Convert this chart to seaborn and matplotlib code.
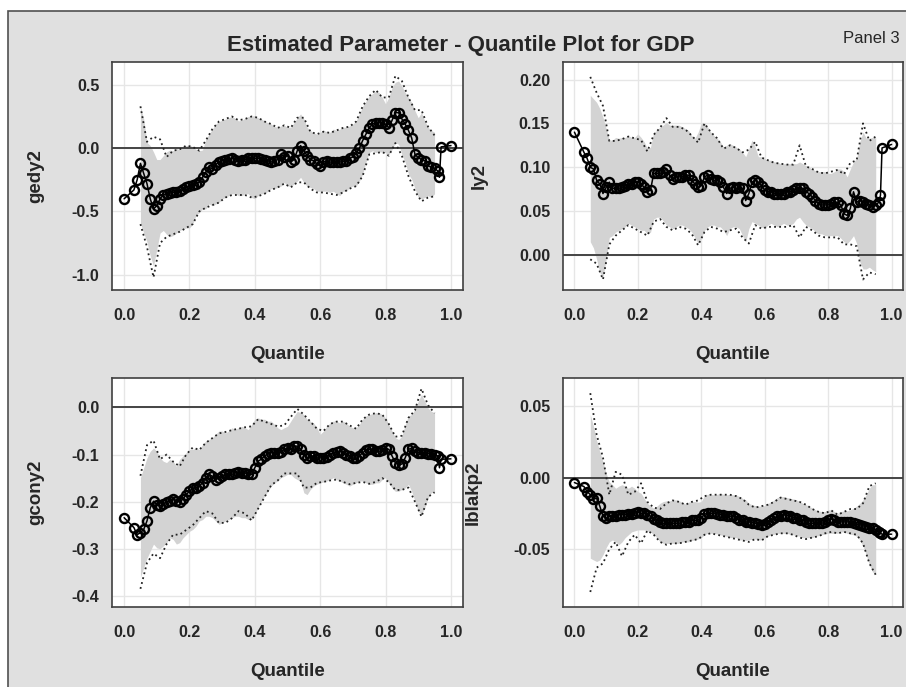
import numpy as np
import matplotlib
matplotlib.use("Agg")
import matplotlib.pyplot as plt
import seaborn as sns
from matplotlib.patches import Rectangle
from matplotlib.ticker import FixedLocator, FormatStrFormatter

# ---------------- data ----------------
title = "Estimated Parameter - Quantile Plot for GDP"
panel_tag = "Panel 3"
x_label = "Quantile"
x_ticks = [0.0, 0.2, 0.4, 0.6, 0.8, 1.0]

# quantile grids
q_est = np.concatenate([[0.0, 0.03, 0.04],
                        np.round(np.arange(0.05, 0.965, 0.01), 2),
                        [0.965, 0.97, 1.0]])
q_band = np.round(np.arange(0.05, 0.955, 0.01), 2)
q_dot = np.round(np.arange(0.05, 0.96, 0.02), 2)

# ---- panel 1: gedy2 ----
gedy2_est = [-0.40, -0.33, -0.25,
             -0.12, -0.20, -0.28, -0.40, -0.48, -0.455, -0.40, -0.37, -0.36, -0.355,
             -0.35, -0.345, -0.34, -0.325, -0.31, -0.30, -0.29, -0.28, -0.27, -0.23,
             -0.19, -0.15, -0.165, -0.13, -0.11, -0.10, -0.09, -0.085, -0.08, -0.09,
             -0.10, -0.095, -0.09, -0.08, -0.075, -0.08, -0.08, -0.085, -0.09, -0.10,
             -0.11, -0.10, -0.09, -0.05, -0.07, -0.06, -0.11, -0.09, -0.02, 0.02,
             -0.02, -0.06, -0.09, -0.10, -0.125, -0.14, -0.11, -0.10, -0.11, -0.11,
             -0.11, -0.11, -0.105, -0.10, -0.08, -0.07, -0.04, 0.0, 0.06, 0.11,
             0.16, 0.19, 0.20, 0.20, 0.20, 0.19, 0.16, 0.22, 0.28, 0.28,
             0.23, 0.19, 0.14, 0.08, -0.05, -0.075, -0.09, -0.10, -0.14, -0.15,
             -0.16, -0.18,
             -0.23, 0.01, 0.02]
gedy2_hi = [0.33, 0.23, 0.045, 0.02, -0.03, -0.09, -0.09, -0.06, -0.03, -0.015,
            -0.02, 0.0, -0.015, 0.005, 0.02, 0.025, 0.01, -0.01, -0.02, -0.015,
            0.07, 0.11, 0.15, 0.19, 0.21, 0.22, 0.23, 0.24, 0.25, 0.235,
            0.215, 0.22, 0.235, 0.25, 0.255, 0.255, 0.24, 0.23, 0.215, 0.20,
            0.19, 0.17, 0.165, 0.175, 0.18, 0.165, 0.165, 0.20, 0.24, 0.27,
            0.23, 0.165, 0.14, 0.12, 0.11, 0.125, 0.14, 0.13, 0.125, 0.15,
            0.14, 0.15, 0.165, 0.165, 0.175, 0.19, 0.215, 0.27, 0.33, 0.37,
            0.41, 0.43, 0.45, 0.44, 0.40, 0.35, 0.40, 0.48, 0.52, 0.53,
            0.49, 0.44, 0.40, 0.36, 0.295, 0.24, 0.28, 0.215, 0.165, 0.14,
            0.125]
gedy2_lo = [-0.59, -0.67, -0.74, -0.85, -0.93, -0.80, -0.67, -0.65, -0.68, -0.70,
            -0.69, -0.67, -0.65, -0.64, -0.63, -0.63, -0.60, -0.53, -0.51, -0.48,
            -0.48, -0.44, -0.455, -0.44, -0.43, -0.40, -0.39, -0.375, -0.36, -0.36,
            -0.375, -0.375, -0.36, -0.36, -0.39, -0.40, -0.375, -0.36, -0.36, -0.34,
            -0.32, -0.32, -0.31, -0.30, -0.27, -0.30, -0.30, -0.285, -0.26, -0.23,
            -0.27, -0.30, -0.31, -0.32, -0.34, -0.34, -0.34, -0.34, -0.35, -0.34,
            -0.36, -0.375, -0.34, -0.34, -0.31, -0.30, -0.30, -0.26, -0.205, -0.11,
            -0.035, -0.02, -0.035, -0.03, -0.03, -0.035, -0.05, -0.01, 0.045, 0.03,
            -0.05, -0.11, -0.205, -0.245, -0.32, -0.39, -0.40, -0.39, -0.375, -0.39,
            -0.36]
gedy2_dot_hi = [0.33, 0.05, 0.09, 0.07, -0.07, -0.02, -0.01, 0.02, 0.01, -0.02,
                0.06, 0.15, 0.21, 0.23, 0.25, 0.22, 0.23, 0.25, 0.24, 0.21,
                0.19, 0.16, 0.18, 0.16, 0.24, 0.24, 0.13, 0.11, 0.13, 0.12,
                0.14, 0.16, 0.17, 0.21, 0.33, 0.41, 0.46, 0.40, 0.40, 0.57,
                0.53, 0.40, 0.30, 0.30, 0.17, 0.10]
gedy2_dot_lo = [-0.60, -0.78, -1.02, -0.75, -0.70, -0.68, -0.66, -0.63, -0.60, -0.50,
                -0.47, -0.45, -0.43, -0.39, -0.37, -0.37, -0.37, -0.39, -0.38, -0.36,
                -0.33, -0.31, -0.28, -0.31, -0.27, -0.27, -0.32, -0.35, -0.35, -0.36,
                -0.37, -0.35, -0.32, -0.30, -0.22, -0.05, -0.04, -0.03, -0.06, 0.04,
                -0.06, -0.22, -0.34, -0.42, -0.39, -0.38]

# ---- panel 2: ly2 ----
ly2_est = [0.140, 0.117, 0.110,
           0.100, 0.098, 0.085, 0.081, 0.070, 0.077, 0.083, 0.076, 0.076, 0.076,
           0.077, 0.079, 0.081, 0.081, 0.083, 0.083, 0.081, 0.077, 0.072, 0.074,
           0.093, 0.093, 0.093, 0.095, 0.098, 0.091, 0.087, 0.089, 0.089, 0.089,
           0.091, 0.091, 0.085, 0.081, 0.077, 0.079, 0.089, 0.091, 0.087, 0.085,
           0.085, 0.083, 0.077, 0.070, 0.076, 0.077, 0.076, 0.077, 0.076, 0.062,
           0.070, 0.083, 0.085, 0.083, 0.079, 0.074, 0.072, 0.072, 0.070, 0.070,
           0.070, 0.070, 0.072, 0.072, 0.074, 0.076, 0.076, 0.076, 0.072, 0.070,
           0.066, 0.062, 0.058, 0.057, 0.057, 0.057, 0.058, 0.060, 0.060, 0.057,
           0.047, 0.045, 0.053, 0.072, 0.060, 0.062, 0.060, 0.058, 0.057, 0.055,
           0.057, 0.060,
           0.068, 0.122, 0.126]
ly2_hi = [0.182, 0.178, 0.174, 0.167, 0.157, 0.144, 0.131, 0.131, 0.134, 0.133,
          0.134, 0.134, 0.136, 0.134, 0.134, 0.138, 0.134, 0.129, 0.121, 0.123,
          0.140, 0.142, 0.146, 0.148, 0.151, 0.148, 0.148, 0.148, 0.148, 0.146,
          0.144, 0.142, 0.136, 0.133, 0.140, 0.150, 0.151, 0.146, 0.140, 0.136,
          0.133, 0.129, 0.123, 0.125, 0.127, 0.125, 0.123, 0.121, 0.117, 0.112,
          0.121, 0.131, 0.123, 0.112, 0.112, 0.110, 0.108, 0.108, 0.106, 0.106,
          0.104, 0.104, 0.104, 0.104, 0.104, 0.104, 0.106, 0.104, 0.102, 0.100,
          0.098, 0.096, 0.095, 0.095, 0.095, 0.093, 0.093, 0.095, 0.098, 0.098,
          0.095, 0.089, 0.098, 0.106, 0.110, 0.129, 0.140, 0.133, 0.133, 0.134,
          0.134]
ly2_lo = [0.015, 0.008, -0.005, -0.020, -0.025, -0.005, 0.020, 0.022, 0.026, 0.028,
          0.030, 0.032, 0.036, 0.034, 0.032, 0.030, 0.028, 0.028, 0.024, 0.026,
          0.041, 0.043, 0.043, 0.039, 0.034, 0.032, 0.030, 0.032, 0.034, 0.034,
          0.032, 0.030, 0.026, 0.020, 0.013, 0.019, 0.028, 0.032, 0.034, 0.034,
          0.032, 0.032, 0.028, 0.022, 0.030, 0.032, 0.032, 0.030, 0.022, 0.015,
          0.030, 0.038, 0.036, 0.034, 0.032, 0.030, 0.034, 0.036, 0.034, 0.032,
          0.034, 0.036, 0.034, 0.034, 0.036, 0.041, 0.043, 0.038, 0.034, 0.032,
          0.030, 0.026, 0.024, 0.024, 0.022, 0.022, 0.022, 0.022, 0.022, 0.019,
          0.015, 0.013, 0.017, 0.022, 0.013, -0.008, -0.016, -0.016, -0.014, -0.017,
          -0.019]
ly2_dot_hi = [0.203, 0.185, 0.170, 0.130, 0.130, 0.132, 0.135, 0.133, 0.131, 0.118,
              0.137, 0.145, 0.156, 0.146, 0.146, 0.143, 0.136, 0.128, 0.150, 0.140,
              0.133, 0.121, 0.125, 0.122, 0.117, 0.120, 0.129, 0.111, 0.108, 0.105,
              0.104, 0.103, 0.103, 0.125, 0.101, 0.098, 0.094, 0.093, 0.095, 0.097,
              0.092, 0.105, 0.108, 0.150, 0.130, 0.135]
ly2_dot_lo = [-0.005, -0.010, -0.028, 0.012, 0.022, 0.028, 0.034, 0.030, 0.026, 0.022,
              0.038, 0.041, 0.032, 0.028, 0.032, 0.030, 0.024, 0.011, 0.026, 0.032,
              0.030, 0.026, 0.028, 0.030, 0.020, 0.013, 0.034, 0.030, 0.032, 0.032,
              0.032, 0.032, 0.034, 0.020, 0.032, 0.028, 0.022, 0.020, 0.020, 0.020,
              0.012, 0.012, 0.010, -0.028, -0.020, -0.022]

# ---- panel 3: gcony2 ----
gcony2_est = [-0.234, -0.255, -0.270,
              -0.266, -0.259, -0.241, -0.213, -0.199, -0.206, -0.209, -0.205, -0.200, -0.199,
              -0.195, -0.199, -0.200, -0.195, -0.185, -0.178, -0.171, -0.171, -0.167, -0.160,
              -0.149, -0.142, -0.146, -0.153, -0.149, -0.146, -0.142, -0.141, -0.142, -0.139,
              -0.137, -0.139, -0.139, -0.142, -0.142, -0.128, -0.114, -0.110, -0.103, -0.098,
              -0.096, -0.096, -0.096, -0.094, -0.089, -0.086, -0.089, -0.082, -0.082, -0.089,
              -0.100, -0.107, -0.103, -0.103, -0.107, -0.107, -0.107, -0.105, -0.100, -0.096,
              -0.094, -0.093, -0.096, -0.100, -0.103, -0.107, -0.108, -0.103, -0.096, -0.091,
              -0.089, -0.089, -0.093, -0.093, -0.091, -0.086, -0.089, -0.103, -0.117, -0.122,
              -0.120, -0.107, -0.089, -0.086, -0.093, -0.096, -0.096, -0.096, -0.098, -0.098,
              -0.100, -0.103,
              -0.128, -0.110, -0.109]
gcony2_hi = [-0.149, -0.128, -0.107, -0.093, -0.086, -0.093, -0.107, -0.114, -0.117, -0.110,
             -0.114, -0.125, -0.110, -0.103, -0.096, -0.089, -0.089, -0.086, -0.089, -0.079,
             -0.071, -0.068, -0.064, -0.057, -0.050, -0.050, -0.054, -0.050, -0.043, -0.047,
             -0.043, -0.040, -0.043, -0.047, -0.036, -0.025, -0.022, -0.025, -0.025, -0.029,
             -0.029, -0.036, -0.043, -0.047, -0.043, -0.040, -0.029, -0.018, -0.008, -0.011,
             -0.015, -0.025, -0.029, -0.033, -0.043, -0.057, -0.050, -0.040, -0.033, -0.029,
             -0.029, -0.033, -0.029, -0.033, -0.040, -0.043, -0.043, -0.036, -0.025, -0.018,
             -0.015, -0.013, -0.011, -0.011, -0.015, -0.022, -0.036, -0.050, -0.064, -0.068,
             -0.061, -0.036, -0.018, -0.015, -0.004, 0.013, 0.028, 0.013, -0.001, -0.008,
             -0.011]
gcony2_lo = [-0.360, -0.340, -0.320, -0.305, -0.290, -0.298, -0.300, -0.294, -0.287, -0.277,
             -0.280, -0.290, -0.287, -0.277, -0.270, -0.263, -0.259, -0.252, -0.241, -0.238,
             -0.231, -0.231, -0.234, -0.241, -0.248, -0.245, -0.241, -0.238, -0.234, -0.231,
             -0.231, -0.234, -0.234, -0.238, -0.238, -0.227, -0.213, -0.199, -0.188, -0.178,
             -0.167, -0.160, -0.156, -0.149, -0.146, -0.142, -0.142, -0.149, -0.153, -0.156,
             -0.181, -0.185, -0.174, -0.167, -0.163, -0.160, -0.158, -0.156, -0.153, -0.149,
             -0.153, -0.156, -0.160, -0.163, -0.167, -0.163, -0.160, -0.156, -0.156, -0.160,
             -0.163, -0.163, -0.160, -0.160, -0.153, -0.149, -0.160, -0.171, -0.178, -0.178,
             -0.174, -0.171, -0.163, -0.178, -0.199, -0.220, -0.227, -0.213, -0.192, -0.181,
             -0.178]
gcony2_dot_hi = [-0.145, -0.080, -0.070, -0.110, -0.100, -0.115, -0.125, -0.100, -0.085, -0.090,
                 -0.075, -0.065, -0.055, -0.052, -0.048, -0.045, -0.042, -0.040, -0.025, -0.030,
                 -0.035, -0.040, -0.038, -0.020, -0.003, -0.015, -0.030, -0.045, -0.050, -0.035,
                 -0.030, -0.030, -0.038, -0.045, -0.025, -0.015, -0.012, -0.015, -0.035, -0.062,
                 -0.060, -0.022, -0.006, 0.040, 0.005, -0.012]
gcony2_dot_lo = [-0.385, -0.330, -0.310, -0.320, -0.290, -0.270, -0.270, -0.260, -0.250, -0.235,
                 -0.220, -0.225, -0.245, -0.245, -0.235, -0.220, -0.225, -0.240, -0.215, -0.190,
                 -0.165, -0.155, -0.140, -0.140, -0.140, -0.170, -0.170, -0.160, -0.158, -0.155,
                 -0.153, -0.158, -0.163, -0.160, -0.158, -0.162, -0.158, -0.150, -0.158, -0.175,
                 -0.175, -0.170, -0.200, -0.232, -0.190, -0.180]

# ---- panel 4: lblakp2 ----
lblakp2_est = [-0.0035, -0.0063, -0.0098,
               -0.012, -0.015, -0.0145, -0.020, -0.027, -0.0284, -0.027, -0.027, -0.0268, -0.026,
               -0.026, -0.026, -0.0256, -0.0256, -0.025, -0.0242, -0.025, -0.025, -0.026, -0.027,
               -0.029, -0.030, -0.031, -0.032, -0.032, -0.032, -0.032, -0.032, -0.032, -0.031,
               -0.031, -0.031, -0.030, -0.030, -0.0296, -0.0284, -0.0256, -0.025, -0.025, -0.025,
               -0.0254, -0.026, -0.026, -0.0266, -0.027, -0.027, -0.0284, -0.0296, -0.0296, -0.031,
               -0.031, -0.0315, -0.032, -0.0326, -0.033, -0.0326, -0.031, -0.0296, -0.0284, -0.027,
               -0.0266, -0.026, -0.0266, -0.027, -0.028, -0.0284, -0.0296, -0.030, -0.031, -0.032,
               -0.032, -0.032, -0.032, -0.032, -0.031, -0.0296, -0.029, -0.0296, -0.031, -0.031,
               -0.031, -0.031, -0.031, -0.032, -0.0326, -0.033, -0.0338, -0.0343, -0.035, -0.0354,
               -0.0366, -0.0378,
               -0.039, -0.0396, -0.0396]
lblakp2_hi = [0.044, 0.036, 0.026, 0.018, 0.011, 0.003, -0.003, -0.005, -0.0075, -0.006,
              -0.005, -0.006, -0.0075, -0.006, -0.0075, -0.0098, -0.011, -0.0145, -0.018, -0.020,
              -0.0214, -0.020, -0.018, -0.0168, -0.0163, -0.0163, -0.0156, -0.0156, -0.0163, -0.0172,
              -0.0186, -0.0172, -0.0168, -0.0168, -0.0172, -0.0168, -0.0126, -0.0117, -0.0117, -0.0121,
              -0.0117, -0.011, -0.0117, -0.0121, -0.0117, -0.0121, -0.0121, -0.0133, -0.0145, -0.0156,
              -0.018, -0.019, -0.0196, -0.020, -0.020, -0.0196, -0.018, -0.0172, -0.0156, -0.014,
              -0.0133, -0.0133, -0.014, -0.0145, -0.015, -0.0156, -0.0168, -0.018, -0.019, -0.020,
              -0.0214, -0.0226, -0.0233, -0.0238, -0.0238, -0.0226, -0.0226, -0.0238, -0.025, -0.0238,
              -0.0233, -0.0233, -0.0226, -0.0214, -0.020, -0.018, -0.0156, -0.0121, -0.0075, -0.005,
              -0.005]
lblakp2_lo = [-0.0564, -0.0576, -0.0587, -0.0576, -0.054, -0.049, -0.045, -0.0436, -0.045, -0.047,
              -0.045, -0.042, -0.040, -0.038, -0.0373, -0.0366, -0.0366, -0.0366, -0.0373, -0.038,
              -0.040, -0.042, -0.045, -0.046, -0.046, -0.046, -0.046, -0.046, -0.046, -0.045,
              -0.045, -0.045, -0.044, -0.0436, -0.043, -0.042, -0.040, -0.039, -0.039, -0.039,
              -0.0394, -0.040, -0.0406, -0.041, -0.042, -0.042, -0.042, -0.0436, -0.0436, -0.044,
              -0.0436, -0.043, -0.043, -0.0436, -0.0436, -0.042, -0.041, -0.040, -0.0396, -0.039,
              -0.039, -0.039, -0.039, -0.0396, -0.040, -0.0406, -0.041, -0.042, -0.042, -0.042,
              -0.042, -0.041, -0.0406, -0.040, -0.0396, -0.039, -0.039, -0.039, -0.039, -0.038,
              -0.038, -0.039, -0.0396, -0.040, -0.041, -0.0436, -0.048, -0.054, -0.061, -0.066,
              -0.067]
lblakp2_dot_hi = [0.059, 0.030, 0.014, -0.012, 0.004, 0.002, -0.012, -0.010, -0.004, -0.017,
                  -0.021, -0.022, -0.018, -0.016, -0.017, -0.019, -0.017, -0.016, -0.013, -0.012,
                  -0.012, -0.012, -0.012, -0.013, -0.015, -0.019, -0.021, -0.020, -0.019, -0.017,
                  -0.014, -0.015, -0.016, -0.017, -0.019, -0.022, -0.024, -0.025, -0.023, -0.026,
                  -0.024, -0.022, -0.022, -0.018, -0.006, -0.004]
lblakp2_dot_lo = [-0.080, -0.063, -0.060, -0.050, -0.045, -0.055, -0.045, -0.040, -0.046, -0.037,
                  -0.040, -0.045, -0.047, -0.046, -0.046, -0.045, -0.044, -0.043, -0.040, -0.039,
                  -0.040, -0.041, -0.042, -0.043, -0.044, -0.045, -0.043, -0.044, -0.041, -0.040,
                  -0.039, -0.039, -0.040, -0.042, -0.043, -0.042, -0.041, -0.039, -0.038, -0.039,
                  -0.038, -0.039, -0.040, -0.046, -0.060, -0.068]

y_labels = ["gedy2", "ly2", "gcony2", "lblakp2"]
y_ticks = [[0.5, 0.0, -0.5, -1.0],
           [0.20, 0.15, 0.10, 0.05, 0.00],
           [0.0, -0.1, -0.2, -0.3, -0.4],
           [0.05, 0.00, -0.05]]
y_fmts = ["%.1f", "%.2f", "%.1f", "%.2f"]

# ---------------- style ----------------
sns.set_style("white")
plt.rcParams["font.family"] = ["Liberation Sans", "DejaVu Sans"]
plt.rcParams["axes.unicode_minus"] = False

W, H = 906, 687
fig = plt.figure(figsize=(W / 100, H / 100), dpi=100)
fig.patch.set_facecolor("white")
fig.add_artist(Rectangle((8 / W, -0.02), 1.0, 1 - 11 / H + 0.02,
                         transform=fig.transFigure, facecolor="#e0e0e0",
                         edgecolor="#505050", lw=1.2, zorder=-10))

# axes boxes in pixels: (left, top, right, bottom)
boxes = [(112, 62, 463, 290), (562.7, 62, 903.3, 290),
         (112, 378.3, 463, 606.7), (562.7, 378.3, 903.3, 606.7)]
ylims = [(-1.12, 0.68), (-0.040, 0.220), (-0.423, 0.062), (-0.0903, 0.0694)]
ylabel_x = [-0.194, -0.219, -0.194, -0.237]

panels = [
    (gedy2_est, gedy2_lo, gedy2_hi, gedy2_dot_lo, gedy2_dot_hi),
    (ly2_est, ly2_lo, ly2_hi, ly2_dot_lo, ly2_dot_hi),
    (gcony2_est, gcony2_lo, gcony2_hi, gcony2_dot_lo, gcony2_dot_hi),
    (lblakp2_est, lblakp2_lo, lblakp2_hi, lblakp2_dot_lo, lblakp2_dot_hi),
]

for i, (est, lo, hi, dlo, dhi) in enumerate(panels):
    l, t, r, b = boxes[i]
    ax = fig.add_axes([l / W, 1 - b / H, (r - l) / W, (b - t) / H])
    ax.set_facecolor("white")
    ax.set_axisbelow(True)
    ax.grid(True, color="#e6e6e6", lw=1.0)

    ax.fill_between(q_band, lo, hi, color="#d3d3d3", lw=0, zorder=1)
    for dd in (dhi, dlo):
        sns.lineplot(x=q_dot, y=dd, ax=ax, color="#222222", lw=1.3,
                     linestyle=(0, (1, 1.8)), estimator=None, sort=False,
                     zorder=2)
    ax.axhline(0, color="#444444", lw=1.4, zorder=1.5)
    sns.lineplot(x=q_est, y=est, ax=ax, color="black", lw=1.1, marker="o",
                 markersize=6.5, markerfacecolor="none",
                 markeredgecolor="black", markeredgewidth=1.7,
                 estimator=None, sort=False, zorder=3)

    ax.set_xlim(-0.037, 1.037)
    ax.set_ylim(*ylims[i])
    ax.xaxis.set_major_locator(FixedLocator(x_ticks))
    ax.xaxis.set_major_formatter(FormatStrFormatter("%.1f"))
    ax.yaxis.set_major_locator(FixedLocator(y_ticks[i]))
    ax.yaxis.set_major_formatter(FormatStrFormatter(y_fmts[i]))
    ax.tick_params(axis="both", which="major", direction="out", length=6,
                   width=1, color="#404040", labelsize=11.5)
    ax.tick_params(axis="x", pad=7)
    ax.tick_params(axis="y", pad=3)
    for lab in ax.get_xticklabels() + ax.get_yticklabels():
        lab.set_fontweight("bold")
    for sp in ax.spines.values():
        sp.set_visible(True)
        sp.set_color("#404040")
        sp.set_linewidth(1.2)

    ax.set_xlabel(x_label, fontsize=13.5, fontweight="bold")
    ax.set_ylabel(y_labels[i], fontsize=13.5, fontweight="bold")
    ax.xaxis.set_label_coords(0.5, -0.246)
    ax.yaxis.set_label_coords(ylabel_x[i], 0.5)

fig.text(461 / W, 1 - 45 / H, title, ha="center", va="center",
         fontsize=16, fontweight="bold")
fig.text(871 / W, 1 - 38.5 / H, panel_tag, ha="center", va="center",
         fontsize=12)

fig.savefig("out.png", dpi=100, facecolor=fig.get_facecolor())
